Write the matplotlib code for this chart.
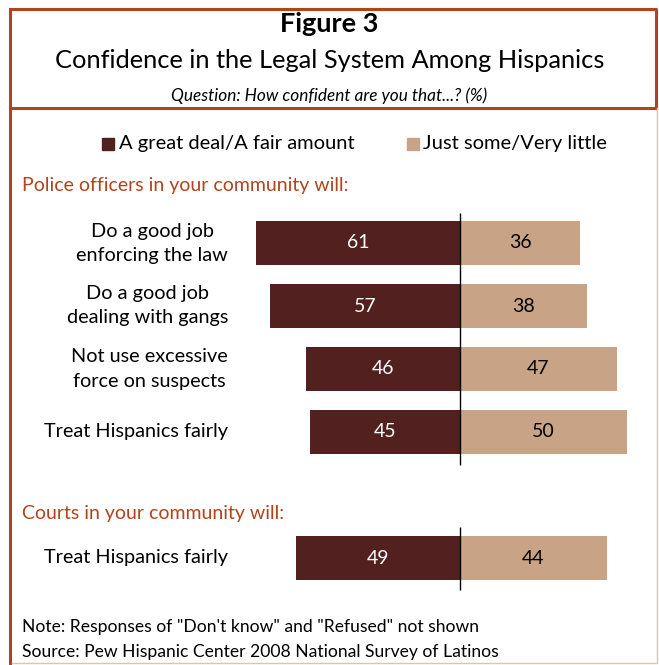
import numpy as np
import matplotlib.pyplot as plt
from matplotlib.lines import Line2D

# data
police_items = ['Do a good job\nenforcing the law', 'Do a good job\ndealing with gangs',
                'Not use excessive\nforce on suspects', 'Treat Hispanics fairly']
police_good = [61, 57, 46, 45]
police_little = [36, 38, 47, 50]
court_items = ['Treat Hispanics fairly']
court_good = [49]
court_little = [44]
series_names = ['A great deal/A fair amount', 'Just some/Very little']

DARK = '#52211f'
LIGHT = '#c9a386'
RUST = '#b0441c'
FONT = ['Lato', 'DejaVu Sans']

W, H = 659, 665
fig = plt.figure(figsize=(W / 100, H / 100), dpi=100)
plt.rcParams['font.family'] = FONT

def fx(x):
    return x / W

def fy(y):
    return 1 - y / H

# frame
fig.add_artist(Line2D([fx(10), fx(656), fx(656), fx(10), fx(10)],
                      [fy(9), fy(9), fy(108), fy(108), fy(9)], color=RUST, lw=2.2))
fig.add_artist(Line2D([fx(10), fx(10)], [fy(108), fy(665)], color=RUST, lw=2.2))
fig.add_artist(Line2D([fx(657), fx(657), fx(12)], [fy(108), fy(663), fy(663)], color='#e3c3a6', lw=1))

# header
fig.text(0.5, fy(24), 'Figure 3', ha='center', va='center', fontsize=19.5, fontweight='bold')
fig.text(0.5, fy(60), 'Confidence in the Legal System Among Hispanics', ha='center', va='center', fontsize=18.3)
fig.text(0.5, fy(96), 'Question: How confident are you that...? (%)', ha='center', va='center',
         fontsize=12.4, style='italic')

# legend
fig.patches.append(plt.Rectangle((fx(102), fy(150)), fx(12), 12 / H, color=DARK, transform=fig.transFigure))
fig.text(fx(119), fy(144), series_names[0], ha='left', va='center', fontsize=14.5)
fig.patches.append(plt.Rectangle((fx(407), fy(150)), fx(12), 12 / H, color=LIGHT, transform=fig.transFigure))
fig.text(fx(423), fy(144), series_names[1], ha='left', va='center', fontsize=14.5)

# section headings
fig.text(fx(22), fy(186), 'Police officers in your community will:', ha='left', va='center',
         fontsize=14, color=RUST)
fig.text(fx(22), fy(513), 'Courts in your community will:', ha='left', va='center',
         fontsize=14, color=RUST)

# bar axes, zero at px 460, 3.34 px per point
zero_px, ppu = 460, 3.34
left_px, right_px = 200, 650
top_px, row_px = 243, 63
ax = fig.add_axes([fx(left_px), fy(558 + 0.7 * row_px), (right_px - left_px) / W, (558 - 243 + 1.4 * row_px) / H])
ax.set_xlim((left_px - zero_px) / ppu, (right_px - zero_px) / ppu)
ax.set_ylim(5.7, -0.7)
ax.axis('off')

ypos = list(range(len(police_items))) + [5]
good = police_good + court_good
little = police_little + court_little
items = police_items + court_items

ax.barh(ypos, [-v for v in good], height=0.7, color=DARK)
ax.barh(ypos, little, height=0.7, color=LIGHT)
ax.vlines(0, -0.48, 3.52, color='black', lw=1)
ax.vlines(0, 4.51, 5.5, color='black', lw=1)

for y, g, l, name in zip(ypos, good, little, items):
    ax.text(-g / 2, y, str(g), ha='center', va='center', color='white', fontsize=14)
    ax.text(l / 2, y, str(l), ha='center', va='center', color='black', fontsize=14)
    fig.text(fx(228), fy(top_px + y * row_px), name, ha='right', va='center', fontsize=14.3,
             multialignment='center', linespacing=1.5)

# notes
fig.text(fx(22), fy(627), 'Note: Responses of "Don\'t know" and "Refused" not shown', ha='left', va='center', fontsize=12.6)
fig.text(fx(22), fy(652), 'Source: Pew Hispanic Center 2008 National Survey of Latinos', ha='left', va='center', fontsize=12.6)

fig.savefig('out.png', dpi=100)
